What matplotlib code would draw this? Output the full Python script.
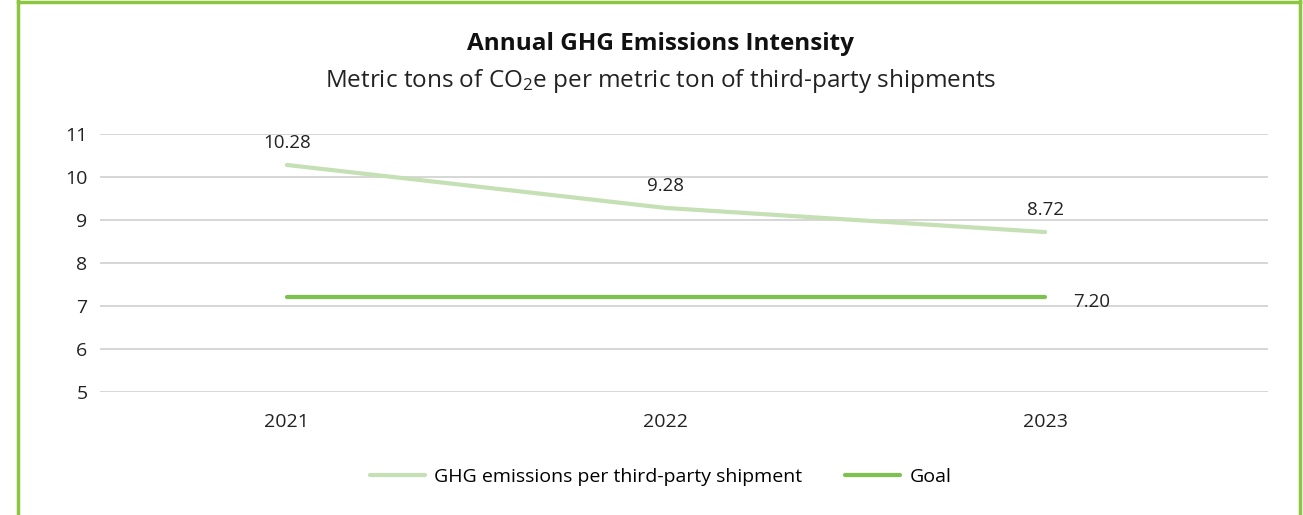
import matplotlib
matplotlib.use("Agg")
import matplotlib.pyplot as plt
from matplotlib.lines import Line2D

plt.rcParams['font.family'] = ['Open Sans', 'DejaVu Sans']
plt.rcParams['mathtext.fontset'] = 'custom'
plt.rcParams['mathtext.rm'] = 'Open Sans'

years = ["2021", "2022", "2023"]
ghg = [10.28, 9.28, 8.72]
goal = [7.20, 7.20, 7.20]
ghg_labels = ["10.28", "9.28", "8.72"]
goal_label = "7.20"
yticks = [5, 6, 7, 8, 9, 10, 11]

W, H = 1303, 515
fig = plt.figure(figsize=(W / 100, H / 100), dpi=100)
ax = fig.add_axes([100 / W, 1 - 392 / H, 1168 / W, 258 / H])

x = list(range(len(years)))
light = '#c5e0b4'
dark = '#7cc24e'
ax.plot(x, ghg, color=light, lw=3, solid_capstyle='round', label='GHG emissions per third-party shipment', zorder=3)
ax.plot(x, goal, color=dark, lw=3, solid_capstyle='round', label='Goal', zorder=3)

for xi, v, s in zip(x, ghg, ghg_labels):
    ax.annotate(s, (xi, v), xytext=(0, 16), textcoords='offset points', ha='center', va='center', fontsize=13.5, color='#222222')
ax.annotate(goal_label, (x[-1], goal[-1]), xytext=(20, -3), textcoords='offset points', ha='left', va='center', fontsize=13.5, color='#222222')

ax.set_ylim(5, 11)
ax.set_yticks(yticks)
ax.set_xlim(-0.493, 2.588)
ax.set_xticks(x)
ax.set_xticklabels(years)
ax.grid(axis='y', color='#d0d0d0', lw=1.2)
ax.set_axisbelow(True)
for s in ax.spines.values():
    s.set_visible(False)
ax.tick_params(axis='both', length=0, labelsize=14, colors='#222222')
ax.tick_params(axis='x', pad=15)
ax.tick_params(axis='y', pad=9)

fig.text(0.507, 1 - 44 / H, "Annual GHG Emissions Intensity", ha='center', va='center', fontsize=17.5, fontweight='bold', color='#111111')
fig.text(0.507, 1 - 81 / H, r"Metric tons of CO$\mathregular{_2}$e per metric ton of third-party shipments", ha='center', va='center', fontsize=17.5, color='#222222')

fig.legend(loc='center', bbox_to_anchor=(0.507, 1 - 477 / H), ncol=2, frameon=False, fontsize=14, handlelength=2.8, columnspacing=2.2, handletextpad=0.5)

bc = '#8cc63f'
fig.add_artist(Line2D([18 / W, 18 / W], [0, 1], color=bc, lw=2.5, transform=fig.transFigure))
fig.add_artist(Line2D([1300 / W, 1300 / W], [0, 1], color=bc, lw=2.5, transform=fig.transFigure))
fig.add_artist(Line2D([18 / W, 1300 / W], [1 - 2 / H, 1 - 2 / H], color=bc, lw=2.5, transform=fig.transFigure))

fig.savefig("out.png", dpi=100)
